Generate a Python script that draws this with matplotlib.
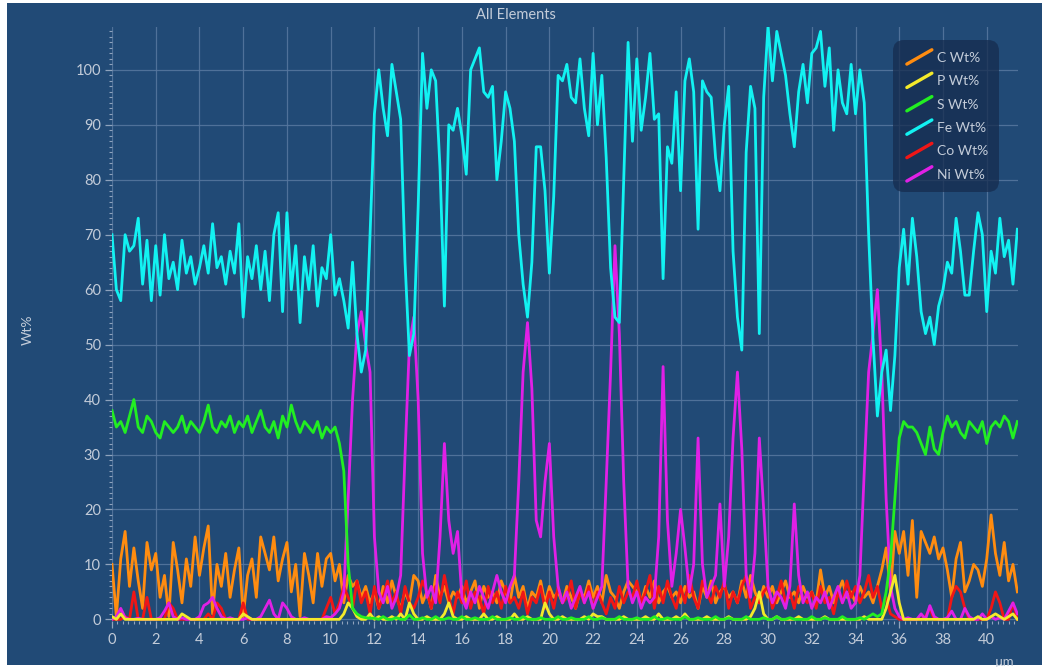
import numpy as np
import matplotlib
matplotlib.use('Agg')
import matplotlib.pyplot as plt
from matplotlib.lines import Line2D
from matplotlib.patches import Rectangle
from matplotlib.legend_handler import HandlerBase
from matplotlib.ticker import MultipleLocator

# ---------------- data (scan step 0.2 um, 0 .. 41.4 um) ----------------
step_um = 0.2

fe_wt = [
    70, 60, 58, 70, 67, 68, 73, 61, 69, 58,
    68, 59, 70, 62, 65, 60, 69, 63, 66, 61,
    64, 68, 63, 72, 64, 66, 61, 67, 63, 72,
    55, 66, 62, 68, 60, 67, 58, 70, 74, 56,
    74, 60, 68, 54, 66, 60, 68, 57, 64, 62,
    70, 59, 62, 58, 53, 65, 52, 45, 49, 70,
    92, 100, 93, 88, 101, 96, 91, 65, 48, 52,
    75, 103, 93, 100, 98, 82, 57, 90, 89, 93,
    88, 81, 100, 102, 104, 96, 95, 97, 80, 87,
    96, 93, 87, 70, 61, 55, 65, 86, 86, 78,
    63, 77, 99, 98, 101, 95, 94, 102, 93, 88,
    103, 90, 99, 84, 64, 55, 54, 80, 105, 87,
    102, 89, 95, 103, 91, 92, 62, 86, 83, 96,
    78, 98, 102, 96, 71, 98, 96, 95, 84, 78,
    90, 97, 67, 55, 49, 85, 97, 93, 52, 95,
    108, 98, 107, 103, 99, 92, 86, 96, 101, 94,
    103, 104, 107, 97, 104, 89, 100, 94, 92, 101,
    92, 100, 94, 70, 51, 37, 45, 49, 38, 48,
    64, 71, 61, 73, 66, 56, 52, 55, 50, 57,
    60, 65, 63, 73, 67, 59, 59, 67, 74, 70,
    56, 67, 63, 73, 66, 69, 61, 71,
]

s_wt = [
    38, 35, 36, 34, 37, 40, 35, 34, 37, 36,
    34, 33, 36, 35, 34, 35, 37, 34, 36, 35,
    34, 36, 39, 35, 34, 36, 35, 37, 34, 36,
    35, 37, 34, 36, 38, 35, 34, 36, 33, 37,
    35, 39, 36, 34, 36, 35, 34, 36, 33, 35,
    34, 35, 32, 27, 10, 2, 1, 0.5, 0.3, 0.2,
    0.2, 0, 0.5, 0, 0, 0.3, 0, 0, 0.8, 0,
    0, 0.3, 0, 0, 0.5, 0, 0, 0.3, 0, 0,
    0.5, 0, 0, 0.3, 0, 0, 0, 0.5, 0, 0,
    0, 0.3, 0, 0, 0.5, 0, 0, 0, 0.3, 0,
    0, 0, 0.5, 0, 0, 0.3, 0, 0, 0, 0.5,
    0, 0, 0.3, 0, 0, 0, 0.5, 0, 0, 0,
    0.3, 0, 0, 0, 0.5, 0, 0, 0.3, 0, 0,
    0, 0.5, 0, 0, 0.3, 0, 0, 0, 0.5, 0,
    0, 0.3, 0, 0, 0, 0.5, 0, 0, 0, 0.3,
    0, 0, 0.5, 0, 0, 0.3, 0, 0, 0, 0,
    0.5, 0, 0, 0.3, 0, 0, 0, 0.5, 0, 0,
    0, 0.3, 0, 0.5, 1, 0.5, 1, 5, 11, 22,
    33, 36, 35, 35, 34, 32, 30, 35, 31, 30,
    34, 37, 35, 36, 34, 33, 36, 35, 34, 36,
    32, 35, 36, 35, 37, 36, 33, 36,
]

ni_wt = [
    0, 0.5, 2, 0.3, 0, 0, 0.2, 0, 0, 0,
    0, 0.3, 1.5, 3, 0.5, 0, 0.3, 0, 0, 0,
    0.5, 2.5, 3, 4, 2, 0.5, 0, 0.3, 0, 0,
    0, 0.3, 0, 0, 0.5, 2, 3.5, 1, 0, 3,
    2, 0.5, 0, 0, 0.3, 0, 0, 0, 0, 0.5,
    0.3, 1, 2, 5, 22, 40, 52, 56, 50, 45,
    15, 5, 3, 6, 2, 4, 8, 30, 50, 55,
    40, 12, 4, 6, 3, 15, 32, 18, 12, 16,
    4, 2, 5, 3, 6, 4, 2, 5, 8, 5,
    3, 6, 8, 25, 45, 54, 42, 18, 15, 25,
    32, 15, 6, 3, 5, 2, 4, 6, 3, 5,
    2, 4, 6, 25, 45, 68, 52, 25, 6, 3,
    5, 2, 4, 3, 4, 15, 46, 18, 6, 12,
    20, 13, 5, 10, 33, 10, 4, 6, 8, 21,
    6, 15, 33, 45, 31, 8, 4, 12, 33, 20,
    6, 3, 5, 4, 2, 6, 21, 8, 3, 5,
    2, 4, 3, 5, 2, 4, 6, 3, 5, 2,
    3, 8, 27, 45, 52, 60, 45, 22, 6, 2,
    0.5, 0, 0.3, 0, 0, 1, 0, 2.5, 0.5, 0,
    0, 0.3, 1.5, 0, 0, 2, 0.5, 0, 0, 1,
    0, 0.5, 0, 0.3, 0, 1.5, 3, 1,
]

c_wt = [
    10, 0.5, 11, 16, 6, 13, 7, 2, 14, 9,
    12, 4, 8, 0.5, 14, 9, 3, 11, 6, 15,
    8, 13, 17, 1, 10, 6, 12, 4, 9, 13,
    0.5, 8, 11, 4, 15, 12, 9, 15, 7, 11,
    14, 5, 10, 0.5, 12, 8, 3, 12, 6, 11,
    12, 7, 10, 3, 8, 6, 7, 4, 6, 3,
    5, 2, 6, 3, 7, 4, 2, 5, 3, 8,
    7, 3, 5, 2, 8, 4, 6, 3, 5, 4,
    6, 3, 5, 7, 2, 6, 4, 5, 3, 7,
    5, 3, 8, 4, 6, 2, 5, 4, 7, 3,
    6, 4, 5, 3, 6, 4, 2, 5, 4, 7,
    4, 6, 3, 8, 5, 4, 2, 5, 7, 6,
    5, 3, 6, 4, 7, 3, 5, 6, 4, 5,
    3, 6, 4, 5, 2, 6, 4, 7, 3, 5,
    6, 4, 5, 3, 7, 4, 8, 5, 3, 6,
    4, 6, 3, 5, 7, 4, 5, 3, 6, 4,
    5, 3, 9, 4, 6, 3, 5, 7, 4, 5,
    3, 6, 4, 5, 3, 6, 9, 13, 5, 16,
    12, 16, 8, 18, 4, 16, 14, 12, 15, 11,
    13, 9, 4, 11, 14, 5, 7, 10, 9, 6,
    11, 19, 12, 8, 14, 7, 10, 5,
]

co_wt = [
    0, 0, 0, 0.5, 0, 5, 0, 0, 4, 0,
    0, 0, 0, 3, 2, 0, 0, 0, 0, 0,
    0, 0, 1, 0, 3, 2, 0, 0, 0, 0,
    3, 0, 0, 0, 0, 0, 0, 0, 0, 0,
    0, 0, 0, 0, 0, 0, 0, 0, 0, 2,
    4, 1, 3, 6, 4, 2, 7, 3, 5, 1,
    6, 2, 4, 7, 3, 5, 1, 6, 3, 2,
    4, 7, 5, 2, 6, 3, 8, 4, 1, 5,
    3, 7, 2, 5, 4, 1, 6, 3, 5, 2,
    6, 3, 4, 2, 5, 1, 4, 3, 6, 2,
    5, 2, 6, 3, 4, 7, 2, 5, 3, 6,
    2, 5, 3, 1, 4, 2, 6, 3, 5, 4,
    7, 3, 5, 8, 2, 6, 3, 7, 4, 2,
    6, 3, 8, 4, 2, 7, 5, 3, 6, 4,
    7, 2, 5, 3, 6, 8, 2, 4, 3, 5,
    6, 2, 4, 7, 3, 5, 2, 6, 4, 3,
    5, 2, 6, 3, 4, 1, 5, 3, 7, 4,
    6, 3, 5, 8, 4, 6, 2, 4, 1, 0.5,
    0, 0, 0, 0, 0, 0, 0.5, 2, 0, 0,
    0, 0, 4, 6, 5, 2, 0, 0, 0, 0,
    0, 2, 5, 3, 0, 0, 3, 0,
]

p_wt = [
    0.5, 0, 1, 0, 0, 0, 0, 0, 0, 0,
    0, 0, 0, 0, 0, 0, 1, 0.5, 0, 0,
    0, 0, 0, 0, 0, 0, 0, 0, 0, 0,
    1, 0.5, 0, 0, 0, 0, 0, 0, 0, 0,
    0, 0, 0, 0, 0, 0, 0, 0, 0, 0,
    0, 0, 0, 1, 3, 2, 0.5, 0, 0, 1,
    0, 0.5, 0, 0, 0.5, 0, 1, 0, 3, 1,
    0, 0, 0.5, 0, 0, 0, 1, 3, 0.5, 0,
    0, 0.5, 0, 0, 0, 1, 0, 0, 0.5, 0,
    0, 0, 1, 0, 0, 0.5, 0, 0, 0, 3,
    1, 0, 0, 0.5, 0, 0, 0, 0, 0.5, 0,
    1, 0.5, 0.5, 0, 0, 0, 0, 0.5, 0, 0,
    0, 0, 0.5, 0, 0, 1, 0, 0, 0, 0.5,
    0, 1, 0, 0, 0, 0, 0.5, 0, 0, 0,
    0, 0.5, 0, 0, 0, 0, 0.5, 2, 5, 1,
    0, 0, 0.5, 0, 0, 0, 0, 0.5, 0, 0,
    0, 0, 0, 0.5, 0, 0, 0, 0, 0, 0,
    0, 0, 0.5, 0, 0, 0, 0, 2, 5, 8,
    3, 0, 0, 0, 0, 0, 0, 0, 0, 0,
    0, 0, 0, 0, 0, 0, 0, 0, 0.5, 0,
    0, 0.5, 1, 0.5, 0, 0.5, 1, 0,
]

series_labels = ["C Wt%", "P Wt%", "S Wt%", "Fe Wt%", "Co Wt%", "Ni Wt%"]
series_colors = ["#ff8c10", "#f4ea2a", "#22ee22", "#12f2f2", "#f01616", "#e020e6"]

# ---------------- style ----------------
BG = "#214a76"
GRID = "#5878a0"
TXT = "#c3ccd9"

plt.rcParams['font.family'] = ['Lato', 'DejaVu Sans']

fig = plt.figure(figsize=(10.42, 6.67), dpi=100, facecolor='white')
fig.patches.append(Rectangle((7 / 1042, 2 / 667), 1 - 7 / 1042, 1 - 5 / 667,
                             transform=fig.transFigure, facecolor=BG,
                             edgecolor='none', zorder=-10))

ax = fig.add_axes([112 / 1042, 1 - 621 / 667, (1018 - 112) / 1042, (621 - 27) / 667])
ax.set_facecolor(BG)

n = len(fe_wt)
x = np.arange(n) * step_um

data = dict(zip(series_labels, [c_wt, p_wt, s_wt, fe_wt, co_wt, ni_wt]))
colors = dict(zip(series_labels, series_colors))
draw_order = ["C Wt%", "Co Wt%", "Ni Wt%", "P Wt%", "S Wt%", "Fe Wt%"]
handles = {}
for lab in draw_order:
    ln, = ax.plot(x, data[lab], color=colors[lab], lw=2.0, solid_joinstyle='round', label=lab)
    handles[lab] = ln

ax.set_xlim(0, 41.43)
ax.set_ylim(-0.3, 107.8)

ax.xaxis.set_major_locator(MultipleLocator(2))
ax.xaxis.set_minor_locator(MultipleLocator(0.25))
ax.yaxis.set_major_locator(MultipleLocator(10))
ax.yaxis.set_minor_locator(MultipleLocator(1))
ax.set_yticks(np.arange(0, 101, 10))

ax.grid(True, which='major', color=GRID, lw=0.9, alpha=0.85)
ax.set_axisbelow(True)
for sp in ax.spines.values():
    sp.set_visible(False)

ax.tick_params(axis='both', which='major', colors="#8fa3bd", labelcolor=TXT,
               labelsize=10.5, length=5, width=0.9, direction='out')
ax.tick_params(axis='both', which='minor', colors="#8fa3bd", length=2.5, width=0.8,
               direction='out')
ax.tick_params(axis='y', which='major', pad=3)
ax.tick_params(axis='x', which='major', pad=4)

fig.text(516 / 1042, 1 - 15 / 667, "All Elements", color=TXT, fontsize=10.5,
         ha='center', va='center')
fig.text(28 / 1042, 1 - 330 / 667, "Wt%", color=TXT, fontsize=10,
         ha='center', va='center', rotation=90)
fig.text(1005 / 1042, 1 - 662 / 667, "µm", color=TXT, fontsize=9.5,
         ha='center', va='center')


class DiagHandler(HandlerBase):
    def create_artists(self, legend, orig_handle, xdescent, ydescent,
                       width, height, fontsize, trans):
        x0, y0 = -xdescent, -ydescent
        ln = Line2D([x0 + 2, x0 + width], [y0 - 1, y0 + height + 1],
                    color=orig_handle.get_color(), lw=2.4, solid_capstyle='round',
                    transform=trans)
        return [ln]


leg = ax.legend([handles[l] for l in series_labels], series_labels,
                handler_map={Line2D: DiagHandler()},
                loc='upper left', bbox_to_anchor=(0.862, 0.978),
                frameon=True, fancybox=True, framealpha=0.75,
                facecolor="#162c4e", edgecolor='none',
                fontsize=10, labelcolor=TXT, handlelength=2.0, handleheight=0.9,
                handletextpad=0.35, labelspacing=0.78, borderpad=0.8,
                borderaxespad=0)
leg.get_frame().set_boxstyle('round,pad=0.0,rounding_size=0.8')

fig.savefig('out.png', dpi=100, facecolor='white')
